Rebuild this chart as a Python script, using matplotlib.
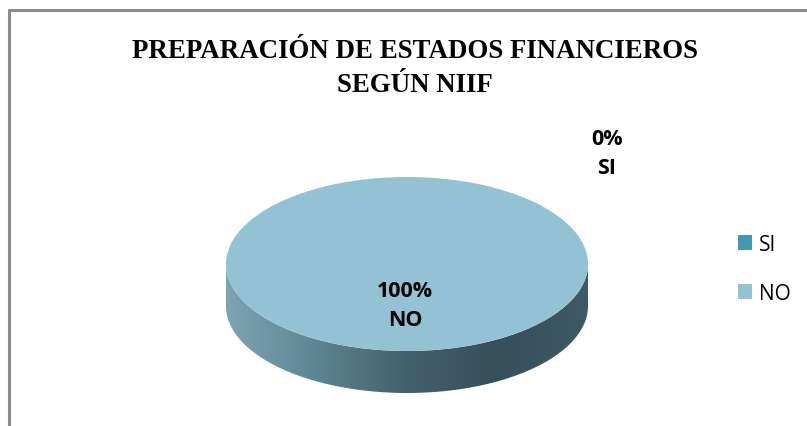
import numpy as np
import matplotlib
matplotlib.use("Agg")
import matplotlib.pyplot as plt
from matplotlib.patches import Patch, Polygon
from matplotlib.colors import LinearSegmentedColormap

# ---- data ----
categories = ["SI", "NO"]
values = [0, 100]
colors = ["#4198B1", "#92C2D4"]
title_lines = ["PREPARACIÓN DE ESTADOS FINANCIEROS", "SEGÚN NIIF"]

W, H = 807, 427
fig = plt.figure(figsize=(W / 100, H / 100), dpi=100)
fig.patch.set_facecolor("white")

# pie axes: 1 data unit -> 181 px horizontally, 87 px vertically
cx, cy = 407, 265
rx, ry = 181, 87
depth = 42 / ry
ylo, yhi = -1 - depth - 0.02, 1.0
left = (cx - rx) / W
width = 2 * rx / W
top_px = cy - ry
h_px = (yhi - ylo) * ry
pax = fig.add_axes([left, (H - top_px - h_px) / H, width, h_px / H])
pax.set_zorder(1)
pax.axis("off")

# side band of the 3D pie with gradient
t = np.linspace(np.pi, 2 * np.pi, 200)
xs = np.cos(t)
ys = np.sin(t)
band = np.concatenate([np.column_stack([xs, ys]),
                       np.column_stack([xs[::-1], ys[::-1] - depth])])
poly = Polygon(band, closed=True, facecolor="none", edgecolor="none")
pax.add_patch(poly)
cmap = LinearSegmentedColormap.from_list(
    "side", ["#7ea4b3", "#5e8594", "#44606b", "#36505a", "#3e5a65"])
grad = np.linspace(0, 1, 256).reshape(1, -1)
im = pax.imshow(grad, cmap=cmap, extent=[-1, 1, -1 - depth, 0], aspect="auto",
                zorder=1, interpolation="bilinear")
im.set_clip_path(poly)

# top face via pie
wedges, _ = pax.pie(values, colors=colors, startangle=90, counterclock=False,
                    radius=1, center=(0, 0), frame=False,
                    wedgeprops=dict(linewidth=0, zorder=2))
pax.set_xlim(-1, 1)
pax.set_ylim(ylo, yhi)
pax.set_aspect("auto")

# overlay axes in pixel coordinates (frame, title, labels)
bg = fig.add_axes([0, 0, 1, 1])
bg.set_zorder(5)
bg.set_xlim(0, W)
bg.set_ylim(H, 0)
bg.axis("off")
bg.plot([9, 9, W + 5], [H + 5, 11, 11], color="#8c8c8c", lw=2.2, solid_capstyle="butt")

bg.text(415, 51, title_lines[0], ha="center", va="center", fontsize=19.4,
        family="Liberation Serif", weight="bold", color="black")
bg.text(415, 85, title_lines[1], ha="center", va="center", fontsize=19.4,
        family="Liberation Serif", weight="bold", color="black")

# data labels
lab_pos = {"SI": (607, 154), "NO": (405, 306)}
for cat, v in zip(categories, values):
    x, y = lab_pos[cat]
    bg.text(x, y, f"{v:.0f}%\n{cat}", ha="center", va="center", fontsize=15.5,
            family="Open Sans", weight="bold", color="black", linespacing=1.55,
            zorder=5)

# legend
handles = [Patch(facecolor=c, edgecolor="none") for c in colors]
leg = fig.legend(handles, categories, loc="center left",
                 bbox_to_anchor=(719 / W, 1 - 270 / H), frameon=False,
                 prop=dict(family="Open Sans", size=15),
                 handlelength=0.7, handleheight=0.7, handletextpad=0.3,
                 labelspacing=1.35)

fig.savefig("out.png", dpi=100, facecolor="white")
